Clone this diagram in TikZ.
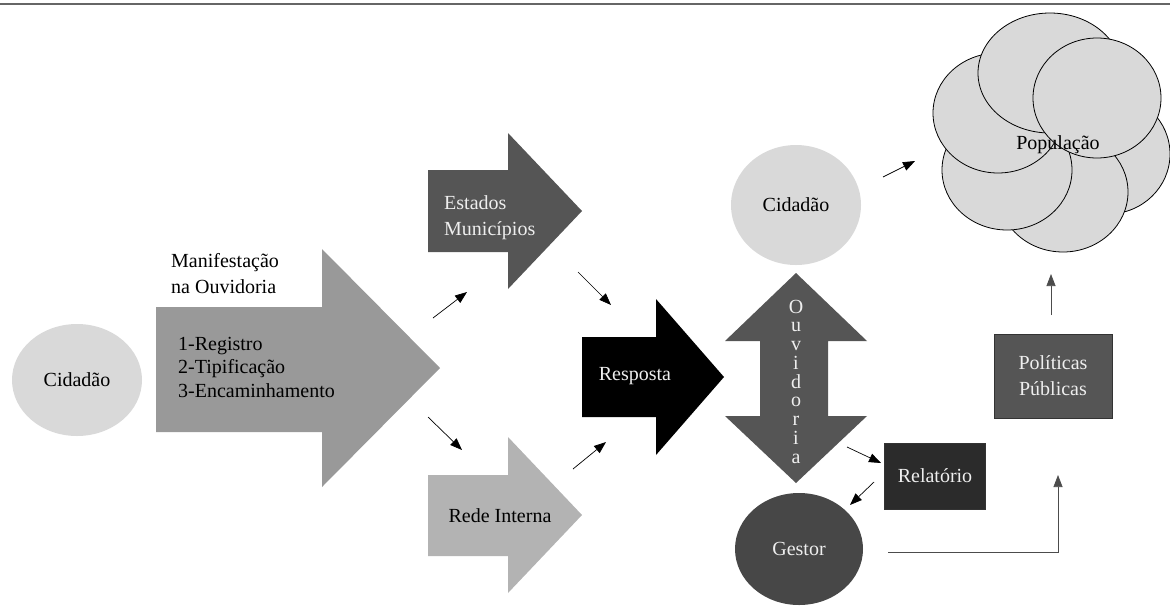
\documentclass[tikz,border=0pt]{standalone}
\usepackage{fontspec}
\setmainfont{Liberation Serif}
\usepackage{tikz}
\usetikzlibrary{arrows.meta,shapes.geometric}
\definecolor{pale}{HTML}{D9D9D9}
\definecolor{mid}{HTML}{999999}
\definecolor{dim}{HTML}{555555}
\definecolor{soft}{HTML}{B3B3B3}
\definecolor{deep}{HTML}{2B2B2B}
\definecolor{ink}{HTML}{474747}
\definecolor{txtw}{HTML}{EEEEEE}

\begin{document}
\begin{tikzpicture}[x=1pt,y=-1pt,font=\fontsize{20}{26}\selectfont,
disc/.style={ellipse,minimum width=130pt,minimum height=112pt,inner sep=0pt},
blob/.style={draw=black,line width=.8pt,fill=pale},
sq/.style={draw=black!80,line width=.8pt,text=txtw,align=center,inner sep=0pt},
lbl/.style={inner sep=0pt,align=left},
arrow/.style={-{Triangle[length=12pt,width=9pt]},line width=.7pt}]
\useasboundingbox (0,0) rectangle (1170,606);
\draw[black!60,line width=1.6pt] (0,4) -- (1170,4);
% left side
\path (77,380) node[disc,fill=pale](cid){Cidadão};
\fill[mid] (156,307) -- (322,307) -- (322,249) -- (440,368) -- (322,487) -- (322,432) -- (156,432) -- cycle;
\node[lbl,anchor=base west](man) at (171,293){Manifestação\\na Ouvidoria};
\node[lbl,anchor=base west,font=\fontsize{20}{23.5}\selectfont](steps) at (178,397){1-Registro\\2-Tipificação\\3-Encaminhamento};
\fill[dim] (428,170) -- (508,170) -- (508,133) -- (582,211) -- (508,289) -- (508,252) -- (428,252) -- cycle;
\node[lbl,anchor=base west,text=txtw](est) at (444,235){Estados\\Municípios};
\fill[soft] (428,475) -- (508,475) -- (508,437) -- (582,515) -- (508,593) -- (508,556) -- (428,556) -- cycle;
\node[lbl](rede) at (500,516){Rede Interna};
\fill[black] (582,337) -- (656,337) -- (656,299) -- (724,377) -- (656,455) -- (656,417) -- (582,417) -- cycle;
\node[lbl,text=txtw](resp) at (635,376){Resposta};
% ouvidoria
\fill[dim] (796,273) -- (867,341) -- (828,341) -- (828,416) -- (867,416) -- (796,483) -- (725,416) -- (760,416) -- (760,341) -- (725,341) -- cycle;
\node[lbl,align=center,anchor=base,text=txtw,font=\fontsize{20}{18.75}\selectfont](ouv) at (796,463){O\\u\\v\\i\\d\\o\\r\\i\\a};
\path (796,205) node[disc,minimum height=120pt,fill=pale](cid2){Cidadão};
\path (799,549) node[disc,minimum width=128pt,fill=ink,text=txtw](gest){Gestor};
\node[sq,fill=deep,minimum width=101pt,minimum height=66pt](rel) at (935,476){Relatório};
\node[sq,fill=dim,minimum width=118pt,minimum height=84pt](pol) at (1053,376){Políticas\\Públicas};
% populacao
\draw[blob] (1108,154) ellipse [x radius=62,y radius=60];
\draw[blob] (1063,192) ellipse [x radius=65,y radius=60];
\draw[blob] (1007,170) ellipse [x radius=65,y radius=60];
\draw[blob] (998,113) ellipse [x radius=65,y radius=60];
\draw[blob] (1050,73) ellipse [x radius=72,y radius=60];
\draw[blob] (1097,98) ellipse [x radius=64,y radius=60];
\node[lbl](pop) at (1058,145){População};
% connectors
\coordinate (a1) at (433,318); \coordinate (b1) at (467,292);
\coordinate (a2) at (428,417); \coordinate (b2) at (462,450);
\coordinate (a3) at (578,272); \coordinate (b3) at (611,305);
\coordinate (a4) at (573,469); \coordinate (b4) at (606,442);
\coordinate (a5) at (883,177); \coordinate (b5) at (915,161);
\coordinate (a6) at (847,447); \coordinate (b6) at (881,463);
\coordinate (a7) at (874,482); \coordinate (b7) at (850,505);
\coordinate (a8) at (888,552); \coordinate (b8) at (1058,475);
\coordinate (a9) at (1051,315); \coordinate (b9) at (1051,274);
\foreach \i in {1,...,7}{\draw[arrow](a\i)--(b\i);}
\draw[arrow,black!70] (a8) -| (b8);
\draw[arrow,black!70] (a9) -- (b9);
\end{tikzpicture}
\end{document}
